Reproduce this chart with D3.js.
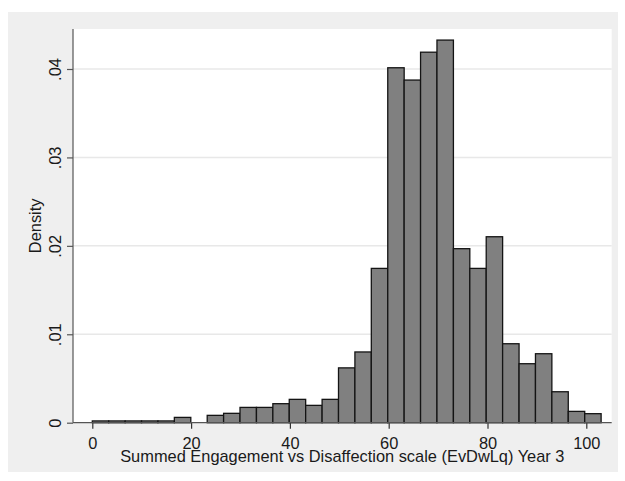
<!DOCTYPE html>
<html>
<head>
<meta charset="utf-8">
<script src="https://cdn.jsdelivr.net/npm/d3@7"></script>
<style>
  body { margin: 0; background: #fff; }
  svg text { font-family: "Liberation Sans", Arial, sans-serif; fill: #1a1a1a; }
</style>
</head>
<body>
<svg class="hist"></svg>
<script>
// lower/upper bin edges (31 bins, 0 to 103)
const binEdges = [0, 3.32, 6.65, 9.97, 13.29, 16.61, 19.94, 23.26, 26.58, 29.90, 33.23,
  36.55, 39.87, 43.19, 46.52, 49.84, 53.16, 56.48, 59.81, 63.13, 66.45,
  69.77, 73.10, 76.42, 79.74, 83.06, 86.39, 89.71, 93.03, 96.35, 99.68, 103.00];
const densities = [0.0002, 0.0002, 0.0002, 0.0002, 0.0002, 0.0006, 0, 0.00083, 0.00106, 0.00173,
  0.00173, 0.00215, 0.00264, 0.00196, 0.00264, 0.0062, 0.0080, 0.01745, 0.04014, 0.03875,
  0.0419, 0.04327, 0.01968, 0.01745, 0.02103, 0.00893, 0.00667, 0.0078, 0.0035, 0.00128, 0.00102];
const xTicks = [0, 20, 40, 60, 80, 100];
const yTicks = [0, 0.01, 0.02, 0.03, 0.04];
const yTickLabels = ['0', '.01', '.02', '.03', '.04'];
const xTitle = 'Summed Engagement vs Disaffection scale (EvDwLq) Year 3';
const yTitle = 'Density';

const bins = densities.map((d, i) => ({ x0: binEdges[i], x1: binEdges[i + 1], value: d }));

const svgWidth = 625, svgHeight = 481;
const plot = { left: 73, right: 611.7, top: 29, bottom: 422.7 };
const fontSize = '16.4px';

const svg = d3.select('svg.hist')
  .attr('width', svgWidth)
  .attr('height', svgHeight);

// outer panel
svg.append('rect')
  .attr('x', 8).attr('y', 12)
  .attr('width', 610).attr('height', 460)
  .attr('fill', '#efefef');

svg.append('rect')
  .attr('x', plot.left).attr('y', plot.top)
  .attr('width', plot.right - plot.left).attr('height', plot.bottom - plot.top)
  .attr('fill', '#fff');

const x = d3.scaleLinear().domain([0, 100]).range([92.3, 586.3]);
const y = d3.scaleLinear().domain([0, 0.04]).range([plot.bottom, 69]);

// grid
svg.append('g')
  .selectAll('line')
  .data(yTicks.filter(d => d > 0))
  .join('line')
  .attr('x1', plot.left).attr('x2', plot.right)
  .attr('y1', d => y(d)).attr('y2', d => y(d))
  .attr('stroke', '#e8e8e8')
  .attr('stroke-width', 1.5);

// bars
svg.append('g')
  .selectAll('rect')
  .data(bins.filter(d => d.value > 0))
  .join('rect')
  .attr('x', d => x(d.x0))
  .attr('width', d => x(d.x1) - x(d.x0))
  .attr('y', d => y(d.value))
  .attr('height', d => y(0) - y(d.value))
  .attr('fill', '#808080')
  .attr('stroke', '#141414')
  .attr('stroke-width', 1.3);

// y axis
const yAxis = svg.append('g')
  .attr('transform', `translate(${plot.left}, 0)`)
  .call(d3.axisLeft(y).tickValues(yTicks).tickSize(6).tickFormat((d, i) => yTickLabels[i]));
yAxis.select('.domain').remove();
yAxis.append('line')
  .attr('y1', plot.top).attr('y2', plot.bottom)
  .attr('stroke', '#555').attr('stroke-width', 1.2);
yAxis.selectAll('.tick line').attr('stroke', '#555').attr('stroke-width', 1.2);
yAxis.selectAll('.tick text')
  .attr('transform', 'rotate(-90)')
  .attr('x', 0).attr('y', -12.3).attr('dy', 0)
  .attr('text-anchor', 'middle')
  .style('font-size', fontSize);

// x axis
const xAxis = svg.append('g')
  .attr('transform', `translate(0, ${plot.bottom})`)
  .call(d3.axisBottom(x).tickValues(xTicks).tickSize(6).tickFormat(d3.format('d')));
xAxis.select('.domain').remove();
xAxis.append('line')
  .attr('x1', plot.left).attr('x2', plot.right)
  .attr('stroke', '#555').attr('stroke-width', 1.2);
xAxis.selectAll('.tick line').attr('stroke', '#333').attr('stroke-width', 1.2);
xAxis.selectAll('.tick text')
  .attr('y', 26).attr('dy', 0)
  .style('font-size', fontSize);

// titles
svg.append('text')
  .attr('x', (plot.left + plot.right) / 2)
  .attr('y', 462.3)
  .attr('text-anchor', 'middle')
  .style('font-size', fontSize)
  .text(xTitle);

svg.append('text')
  .attr('transform', `translate(40.5, ${(plot.top + plot.bottom) / 2}) rotate(-90)`)
  .attr('text-anchor', 'middle')
  .style('font-size', fontSize)
  .text(yTitle);
</script>
</body>
</html>
